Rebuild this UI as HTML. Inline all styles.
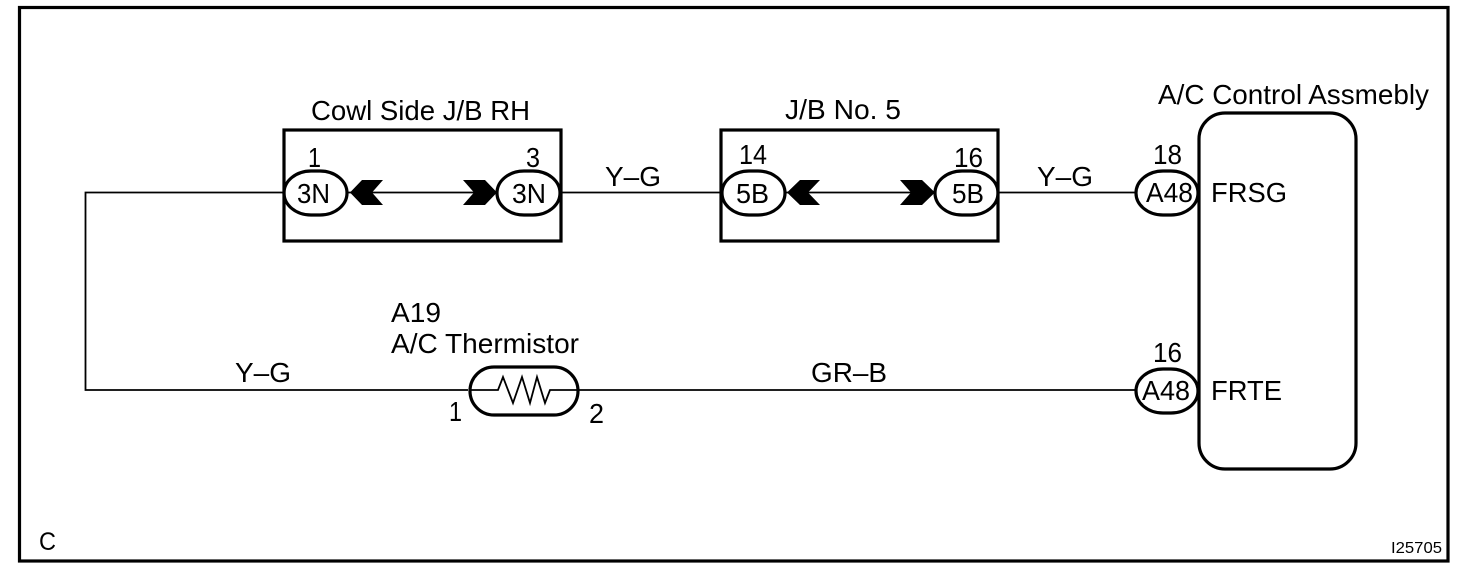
<!DOCTYPE html>
<html><head><meta charset="utf-8"><style>
html,body{margin:0;padding:0;background:#fff}
svg{display:block}
text{font-family:"Liberation Sans",sans-serif;font-size:28px;fill:#000}
.t{fill:none;stroke:#000;stroke-width:3.2}
.w{fill:none;stroke:#000;stroke-width:1.8}
</style></head><body>
<svg width="1472" height="574" viewBox="0 0 1472 574" xmlns="http://www.w3.org/2000/svg">
<rect x="0" y="0" width="1472" height="574" fill="#fff"/>
<rect x="19.5" y="7.5" width="1428.5" height="553.5" class="t"/>
<path class="w" d="M283 192.500H85.500V390H468M578 390H1135M561 192.500H722M998 192.500H1135M348 192.500H497M785 192.500H935"/>
<rect x="284" y="130" width="277" height="111" class="t"/>
<rect x="721" y="130" width="277" height="111" class="t"/>
<rect x="284" y="171" width="63" height="44" rx="27" ry="22" fill="#fff" class="t"/>
<rect x="497" y="171" width="63" height="44" rx="27" ry="22" fill="#fff" class="t"/>
<rect x="722" y="171" width="63" height="44" rx="27" ry="22" fill="#fff" class="t"/>
<rect x="935" y="171" width="63" height="44" rx="27" ry="22" fill="#fff" class="t"/>
<path d="M350 192.500L362 180H383L372 192.500L383 205H362Z"/>
<path d="M497 192.500L485 180H463L474 192.500L463 205H485Z"/>
<path d="M787 192.500L800 180H820L808 192.500L820 205H800Z"/>
<path d="M935 192.500L922 180H900L911 192.500L900 205H922Z"/>
<rect x="1199" y="113" width="157" height="356" rx="26" fill="#fff" class="t"/>
<rect x="1136" y="171" width="62" height="44" rx="27" ry="22" fill="#fff" class="t"/>
<rect x="1136" y="369" width="62" height="44" rx="27" ry="22" fill="#fff" class="t"/>
<rect x="470" y="367" width="108" height="48" rx="24" fill="#fff" class="t"/>
<path class="w" d="M470 390H498L503 377L513 403L522 377L530 403L537 377L545 403L550 390H578"/>
<text x="311" y="120" textLength="219" lengthAdjust="spacingAndGlyphs">Cowl Side J/B RH</text>
<text x="785" y="119" textLength="116" lengthAdjust="spacingAndGlyphs">J/B No. 5</text>
<text x="1158" y="104" textLength="271" lengthAdjust="spacingAndGlyphs">A/C Control Assmebly</text>
<text x="308" y="167" textLength="13" lengthAdjust="spacingAndGlyphs">1</text>
<text x="526" y="167" textLength="14" lengthAdjust="spacingAndGlyphs">3</text>
<text x="739" y="164" textLength="28" lengthAdjust="spacingAndGlyphs">14</text>
<text x="954" y="167" textLength="29" lengthAdjust="spacingAndGlyphs">16</text>
<text x="1153" y="164" textLength="29" lengthAdjust="spacingAndGlyphs">18</text>
<text x="1153" y="362" textLength="29" lengthAdjust="spacingAndGlyphs">16</text>
<text x="297" y="203" textLength="33" lengthAdjust="spacingAndGlyphs">3N</text>
<text x="512" y="203" textLength="34" lengthAdjust="spacingAndGlyphs">3N</text>
<text x="736" y="203" textLength="33" lengthAdjust="spacingAndGlyphs">5B</text>
<text x="952" y="203" textLength="32" lengthAdjust="spacingAndGlyphs">5B</text>
<text x="1146" y="202" textLength="47" lengthAdjust="spacingAndGlyphs">A48</text>
<text x="1142" y="400" textLength="48" lengthAdjust="spacingAndGlyphs">A48</text>
<text x="1211" y="202" textLength="76" lengthAdjust="spacingAndGlyphs">FRSG</text>
<text x="1211" y="400" textLength="71" lengthAdjust="spacingAndGlyphs">FRTE</text>
<text x="605" y="186" textLength="56" lengthAdjust="spacingAndGlyphs">Y–G</text>
<text x="1037" y="186" textLength="56" lengthAdjust="spacingAndGlyphs">Y–G</text>
<text x="235" y="382" textLength="56" lengthAdjust="spacingAndGlyphs">Y–G</text>
<text x="811" y="382" textLength="76" lengthAdjust="spacingAndGlyphs">GR–B</text>
<text x="391" y="322" textLength="50" lengthAdjust="spacingAndGlyphs">A19</text>
<text x="391" y="353" textLength="188" lengthAdjust="spacingAndGlyphs">A/C Thermistor</text>
<text x="449" y="421" textLength="13" lengthAdjust="spacingAndGlyphs">1</text>
<text x="589" y="423" textLength="15" lengthAdjust="spacingAndGlyphs">2</text>
<text x="39" y="550" style="font-size:25px" textLength="17" lengthAdjust="spacingAndGlyphs">C</text>
<text x="1391" y="553" style="font-size:15.500px" textLength="51" lengthAdjust="spacingAndGlyphs">I25705</text>
</svg>
</body></html>
